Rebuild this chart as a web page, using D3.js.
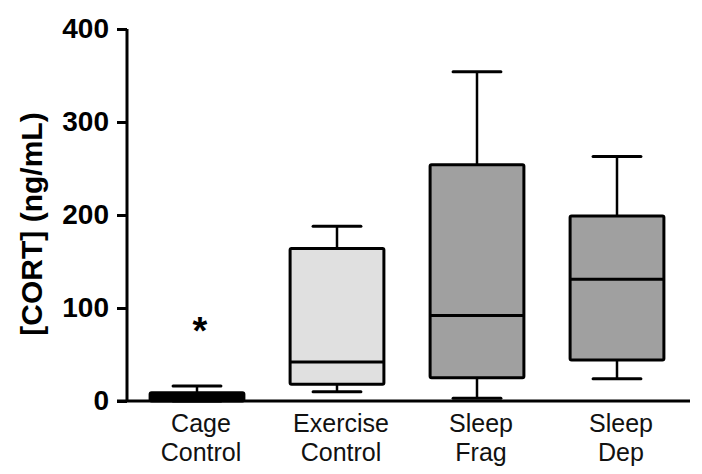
<!DOCTYPE html>
<html>
<head>
<meta charset="utf-8">
<script src="https://cdn.jsdelivr.net/npm/d3@7"></script>
<style>
html,body{margin:0;padding:0;background:#fff;}
svg{display:block;font-family:"Liberation Sans",Arial,sans-serif;}
</style>
</head>
<body>
<svg id="chart" width="702" height="474"></svg>
<script>
// Data
const categories = ["Cage Control", "Exercise Control", "Sleep Frag", "Sleep Dep"];
const labelLines = [["Cage","Control"],["Exercise","Control"],["Sleep","Frag"],["Sleep","Dep"]];
const mins    = [0, 10, 3, 24];
const q1s     = [0, 18, 25, 44];
const medians = [4, 42, 92, 131];
const q3s     = [9, 164, 254, 199];
const maxs    = [16, 188, 354, 263];
const fills   = ["#000000", "#e0e0e0", "#a0a0a0", "#a0a0a0"];
const yTicks  = [0, 100, 200, 300, 400];
const significance = ["*", "", "", ""];

const svg = d3.select("#chart");
const x = d3.scaleBand().domain(categories).range([127, 687]).paddingInner(0.33).paddingOuter(0.165);
const y = d3.scaleLinear().domain([0, 400]).range([401, 29]);

const data = categories.map((c, i) => ({c, min: mins[i], q1: q1s[i], med: medians[i], q3: q3s[i], max: maxs[i], fill: fills[i], sig: significance[i], lines: labelLines[i]}));

const bw = x.bandwidth();
const capW = bw * 0.51;
const g = svg.append("g");

data.forEach(d => {
  const cx = x(d.c) + bw / 2;
  const gg = g.append("g");
  // whiskers
  gg.append("line").attr("x1", cx).attr("x2", cx).attr("y1", y(d.max)).attr("y2", y(d.q3)).attr("stroke", "#000").attr("stroke-width", 2.5);
  gg.append("line").attr("x1", cx).attr("x2", cx).attr("y1", y(d.min)).attr("y2", y(d.q1)).attr("stroke", "#000").attr("stroke-width", 2.5);
  gg.append("line").attr("x1", cx - capW/2).attr("x2", cx + capW/2).attr("y1", y(d.max)).attr("y2", y(d.max)).attr("stroke", "#000").attr("stroke-width", 3).attr("stroke-linecap", "round");
  gg.append("line").attr("x1", cx - capW/2).attr("x2", cx + capW/2).attr("y1", y(d.min)).attr("y2", y(d.min)).attr("stroke", "#000").attr("stroke-width", 3).attr("stroke-linecap", "round");
  // box
  gg.append("rect").attr("x", x(d.c)).attr("y", y(d.q3)).attr("width", bw).attr("height", Math.max(1, y(d.q1) - y(d.q3)))
    .attr("fill", d.fill).attr("stroke", "#000").attr("stroke-width", 3).attr("rx", 1.5);
  gg.append("line").attr("x1", x(d.c)).attr("x2", x(d.c) + bw).attr("y1", y(d.med)).attr("y2", y(d.med)).attr("stroke", "#000").attr("stroke-width", 3);
  if (d.sig) {
    gg.append("text").attr("x", cx + 3).attr("y", y(d.max) - 42).attr("text-anchor", "middle")
      .attr("font-size", 38).attr("font-weight", "bold").text(d.sig);
  }
  // category labels
  d.lines.forEach((ln, k) => {
    g.append("text").attr("x", cx + 4).attr("y", 432 + k * 29).attr("text-anchor", "middle")
      .attr("font-size", 25).attr("fill", "#111").text(ln);
  });
});

// Y axis
const yAxis = d3.axisLeft(y).tickValues(yTicks).tickSize(10).tickPadding(8).tickFormat(d3.format("d"));
const ya = svg.append("g").attr("transform", "translate(127,0)").call(yAxis);
ya.select(".domain").attr("stroke", "#000").attr("stroke-width", 3).attr("d", "M0,29V401");
ya.selectAll(".tick line").attr("stroke", "#000").attr("stroke-width", 3);
ya.selectAll(".tick text").attr("font-size", 28).attr("font-weight", "bold").attr("fill", "#000").attr("font-family", "Liberation Sans, Arial, sans-serif");

// X axis line
svg.append("line").attr("x1", 117).attr("x2", 690).attr("y1", y(0)).attr("y2", y(0)).attr("stroke", "#000").attr("stroke-width", 3);

// Y label
svg.append("text").attr("transform", "translate(42,224) rotate(-90)").attr("text-anchor", "middle")
  .attr("font-size", 30).attr("font-weight", "bold").attr("fill", "#000").text("[CORT] (ng/mL)");
</script>
</body>
</html>
